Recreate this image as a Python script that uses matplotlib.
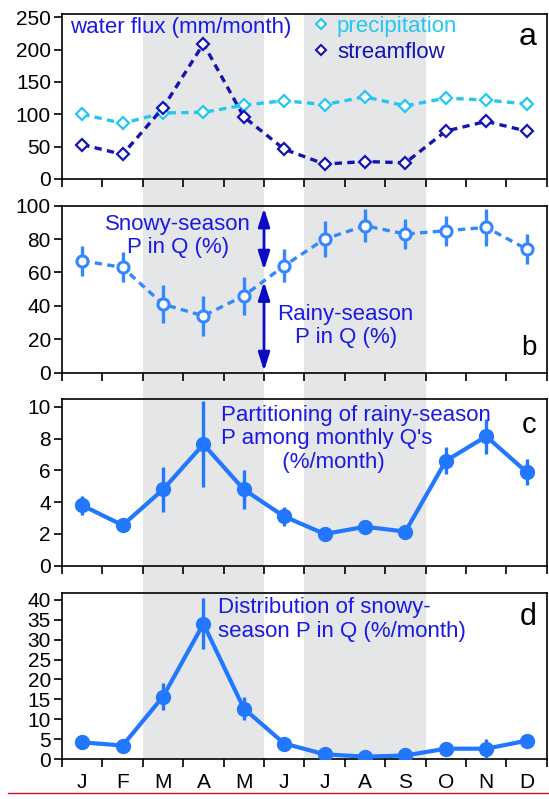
import numpy as np
import matplotlib
matplotlib.use("Agg")
import matplotlib.pyplot as plt
from matplotlib.lines import Line2D

plt.rcParams['font.family'] = ['Liberation Sans', 'DejaVu Sans']

months = ['J', 'F', 'M', 'A', 'M', 'J', 'J', 'A', 'S', 'O', 'N', 'D']

# panel a: water flux (mm/month)
precip = [100, 86, 102, 103, 114, 121, 115, 127, 113, 125, 122, 116]
streamflow = [53, 38, 110, 209, 96, 46, 23, 27, 25, 74, 89, 74]

# panel b: snowy-season P in Q (%)
snowy_pct = [67, 63, 41, 34, 46, 64, 80, 88, 83, 85, 87, 74]
snowy_pct_err = [9, 9, 11.5, 12, 11.5, 10, 11, 10, 9, 9, 11, 9]

# panel c: partitioning of rainy-season P (%/month)
rainy_part = [3.8, 2.55, 4.8, 7.65, 4.8, 3.1, 2.0, 2.45, 2.15, 6.6, 8.15, 5.9]
rainy_part_err = [0.6, 0.2, 1.4, 2.7, 1.2, 0.6, 0.15, 0.2, 0.2, 0.85, 1.1, 0.8]

# panel d: distribution of snowy-season P in Q (%/month)
snowy_dist = [4.2, 3.4, 15.7, 34.0, 12.7, 3.9, 1.2, 0.6, 0.9, 2.6, 2.6, 4.6]
snowy_dist_err = [0.6, 0.5, 3.3, 6.4, 2.9, 0.6, 0.3, 0.2, 0.3, 0.8, 2.4, 0.8]

# shaded seasons (month boundaries)
shade_spans = [(2, 5), (6, 9)]

x = np.arange(12) + 0.5

c_precip = '#22c8f2'
c_stream = '#1414b4'
c_b = '#3388ff'
c_cd = '#2277ff'
c_text = '#1a1ae6'
c_arrow = '#0c0cc4'
shade = '#e5e6e8'
fs_txt = 16

fig = plt.figure(figsize=(5.49, 7.99), dpi=100)

left, width = 0.113, 0.883
boxes = {
    'a': [left, 0.776, width, 0.2065],
    'b': [left, 0.5336, width, 0.209],
    'c': [left, 0.292, width, 0.2086],
    'd': [left, 0.050, width, 0.2081],
}

# background axes carrying the grey bands across all panels
top = boxes['a'][1] + boxes['a'][3]
bg = fig.add_axes([left, boxes['d'][1], width, top - boxes['d'][1]], zorder=-1)
bg.set_xlim(0, 12)
bg.set_ylim(0, 1)
bg.axis('off')
for s0, s1 in shade_spans:
    bg.axvspan(s0, s1, color=shade, lw=0)

axes = {}
for k, b in boxes.items():
    ax = fig.add_axes(b)
    ax.set_facecolor('none')
    ax.set_xlim(0, 12)
    ax.set_xticks(np.arange(13))
    ax.set_xticklabels([])
    ax.tick_params(axis='both', direction='out', length=6, width=1.2, labelsize=15, pad=2)
    for sp in ax.spines.values():
        sp.set_linewidth(1.2)
    axes[k] = ax

# ---- a
ax = axes['a']
ax.plot(x, precip, ls=(0, (2.2, 1.6)), lw=2.4, color=c_precip, marker='D', ms=6.5,
        mfc='white', mec=c_precip, mew=1.6, zorder=3)
ax.plot(x, streamflow, ls=(0, (2.2, 1.6)), lw=2.4, color=c_stream, marker='D', ms=6.5,
        mfc='white', mec=c_stream, mew=1.6, zorder=4)
ax.set_ylim(0, 255)
ax.set_yticks(np.arange(0, 251, 50))
ax.text(0.016, 0.885, 'water flux (mm/month)', transform=ax.transAxes, color=c_text,
        fontsize=fs_txt, va='baseline', ha='left')
handles = [Line2D([], [], ls='none', marker='D', ms=5.5, mfc='white', mec=c_precip, mew=1.5),
           Line2D([], [], ls='none', marker='D', ms=5.5, mfc='white', mec=c_stream, mew=1.5)]
ax.legend(handles, ['precipitation', 'streamflow'], loc='upper left',
          bbox_to_anchor=(0.503, 1.04), frameon=False, fontsize=fs_txt, handlelength=0.6,
          handletextpad=0.4, labelspacing=0.2, labelcolor=[c_precip, c_stream],
          borderaxespad=0)
ax.text(0.979, 0.812, 'a', transform=ax.transAxes, fontsize=23, ha='right', va='baseline')

# ---- b
ax = axes['b']
ax.errorbar(x, snowy_pct, yerr=snowy_pct_err, fmt='none', ecolor=c_b, elinewidth=2.4,
            capsize=0, zorder=3)
ax.plot(x, snowy_pct, ls=(0, (2.2, 1.6)), lw=2.4, color=c_b, marker='o', ms=8,
        mfc='white', mec=c_b, mew=2.2, zorder=4)
ax.set_ylim(0, 100)
ax.set_yticks(np.arange(0, 101, 20))
ax.annotate('', xy=(5, 98.5), xytext=(5, 61.5),
            arrowprops=dict(arrowstyle='<|-|>,head_length=1.1,head_width=0.35',
                            color=c_arrow, lw=2, shrinkA=0, shrinkB=0))
ax.annotate('', xy=(5, 54.5), xytext=(5, 1),
            arrowprops=dict(arrowstyle='<|-|>,head_length=1.1,head_width=0.35',
                            color=c_arrow, lw=2, shrinkA=0, shrinkB=0))
ax.text(2.87, 82, 'Snowy-season\nP in Q (%)', color=c_text, fontsize=fs_txt,
        ha='center', va='center', linespacing=1.15)
ax.text(7.02, 27.8, 'Rainy-season\nP in Q (%)', color=c_text, fontsize=fs_txt,
        ha='center', va='center', linespacing=1.15)
ax.text(0.979, 0.106, 'b', transform=ax.transAxes, fontsize=20, ha='right', va='baseline')

# ---- c
ax = axes['c']
ax.errorbar(x, rainy_part, yerr=rainy_part_err, fmt='none', ecolor=c_cd, elinewidth=2.4,
            capsize=0, zorder=3)
ax.plot(x, rainy_part, ls='-', lw=3, color=c_cd, marker='o', ms=10, zorder=4)
ax.set_ylim(0, 10.5)
ax.set_yticks(np.arange(0, 11, 2))
ax.text(3.94, 8.0, "Partitioning of rainy-season\nP among monthly Q's\n          (%/month)",
        color=c_text, fontsize=fs_txt, ha='left', va='center', linespacing=1.15)
ax.text(0.979, 0.796, 'c', transform=ax.transAxes, fontsize=21, ha='right', va='baseline')

# ---- d
ax = axes['d']
ax.errorbar(x, snowy_dist, yerr=snowy_dist_err, fmt='none', ecolor=c_cd, elinewidth=2.4,
            capsize=0, zorder=3)
ax.plot(x, snowy_dist, ls='-', lw=3, color=c_cd, marker='o', ms=10, zorder=4)
ax.set_ylim(0, 41.8)
ax.set_yticks(np.arange(0, 41, 5))
ax.text(3.86, 35.1, 'Distribution of snowy-\nseason P in Q (%/month)', color=c_text,
        fontsize=fs_txt, ha='left', va='center', linespacing=1.15)
ax.text(0.979, 0.806, 'd', transform=ax.transAxes, fontsize=22, ha='right', va='baseline')
ax.set_xticks(x, minor=True)
ax.set_xticklabels(months, minor=True)
ax.tick_params(axis='x', which='minor', length=0, labelsize=15, pad=10)

# thin red rule at the bottom of the page
fig.add_artist(Line2D([0.015, 1.0], [0.0075, 0.0075], transform=fig.transFigure,
                      color='#c8102e', lw=1))

fig.savefig('out.png', dpi=100)
